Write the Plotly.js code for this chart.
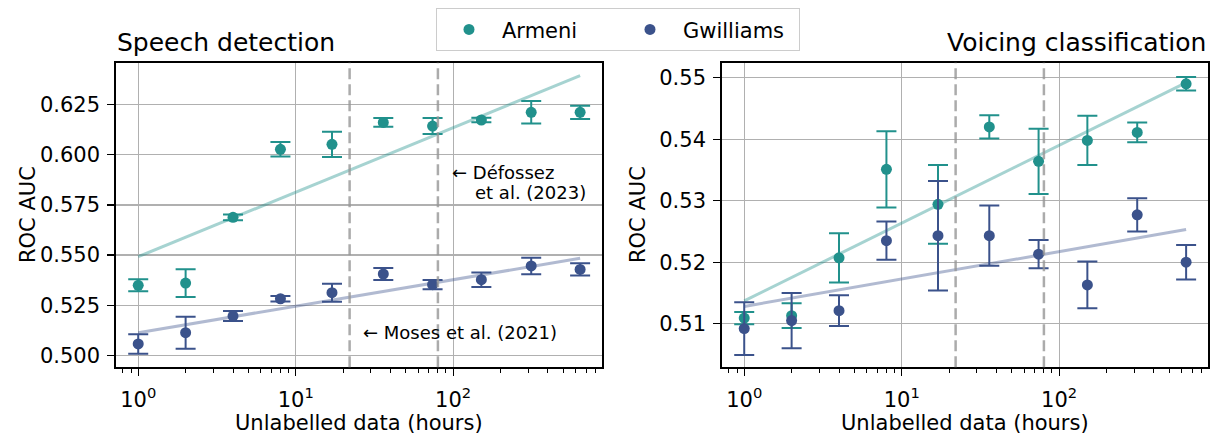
<!DOCTYPE html>
<html>
<head>
<meta charset="utf-8">
<script src="https://cdn.plot.ly/plotly-3.0.1.min.js"></script>
<style>html,body{margin:0;padding:0;background:#fff}#chart{width:1210px;height:434px}</style>
</head>
<body>
<div id="chart"></div>
<script>
// ---- data ----
const hours = [1, 2, 4, 8, 17, 36, 74, 151, 313, 640];
const fitHours = [1, 640];
const vlineHours = [22, 80];

// Speech detection
const speechArmeni      = [0.5350, 0.5361, 0.5688, 0.6026, 0.6051, 0.6160, 0.6142, 0.6172, 0.6210, 0.6210];
const speechArmeniErr   = [0.0030, 0.0069, 0.0014, 0.0036, 0.0063, 0.0022, 0.0040, 0.0011, 0.0056, 0.0033];
const speechGwilliams    = [0.5058, 0.5114, 0.5197, 0.5283, 0.5313, 0.5406, 0.5353, 0.5378, 0.5446, 0.5429];
const speechGwilliamsErr = [0.0049, 0.0080, 0.0025, 0.0014, 0.0045, 0.0030, 0.0023, 0.0036, 0.0041, 0.0031];
const speechArmeniFit    = [0.5492, 0.6393];
const speechGwilliamsFit = [0.5114, 0.5484];

// Voicing classification
const voiceArmeni      = [0.5109, 0.5113, 0.5207, 0.5351, 0.5294, 0.5420, 0.5364, 0.5398, 0.5411, 0.5490];
const voiceArmeniErr   = [0.0010, 0.0020, 0.0040, 0.0062, 0.0064, 0.0019, 0.0053, 0.0040, 0.0016, 0.0011];
const voiceGwilliams    = [0.5092, 0.5105, 0.5121, 0.5235, 0.5243, 0.5243, 0.5213, 0.5163, 0.5277, 0.5200];
const voiceGwilliamsErr = [0.0043, 0.0045, 0.0025, 0.0031, 0.0089, 0.0049, 0.0023, 0.0038, 0.0027, 0.0028];
const voiceArmeniFit    = [0.5137, 0.5492];
const voiceGwilliamsFit = [0.5128, 0.5253];

const xTickVals = [1, 10, 100];
const xTickText = ['10<sup>0</sup>', '10<sup>1</sup>', '10<sup>2</sup>'];
const speechYTicks = [0.500, 0.525, 0.550, 0.575, 0.600, 0.625];
const voiceYTicks = [0.51, 0.52, 0.53, 0.54, 0.55];

// ---- styling ----
const TEAL = '#21918c';
const NAVY = '#3b528b';
const TEAL_FIT = 'rgba(33,145,140,0.4)';
const NAVY_FIT = 'rgba(59,82,139,0.4)';
const FONT = 'DejaVu Sans, sans-serif';
const W = 1210, H = 434;
const px = x => x / W;
const py = y => 1 - y / H;

const minorVals = [];
[0.1, 1, 10, 100].forEach(d => { for (let k = 2; k <= 9; k++) minorVals.push(k * d); });

function pointTrace(y, err, color, name, xa, ya, showlegend) {
  return {
    x: hours, y: y, type: 'scatter', mode: 'markers', name: name,
    xaxis: xa, yaxis: ya, showlegend: showlegend, legendgroup: name,
    marker: {color: color, size: 11},
    error_y: {type: 'data', array: err, visible: true, color: color, thickness: 2, width: 10}
  };
}
function fitTrace(y, color, xa, ya) {
  return {
    x: fitHours, y: y, type: 'scatter', mode: 'lines', showlegend: false,
    xaxis: xa, yaxis: ya, line: {color: color, width: 3}, hoverinfo: 'skip'
  };
}

const data = [
  fitTrace(speechArmeniFit, TEAL_FIT, 'x', 'y'),
  fitTrace(speechGwilliamsFit, NAVY_FIT, 'x', 'y'),
  pointTrace(speechArmeni, speechArmeniErr, TEAL, 'Armeni', 'x', 'y', true),
  pointTrace(speechGwilliams, speechGwilliamsErr, NAVY, 'Gwilliams', 'x', 'y', true),
  fitTrace(voiceArmeniFit, TEAL_FIT, 'x2', 'y2'),
  fitTrace(voiceGwilliamsFit, NAVY_FIT, 'x2', 'y2'),
  pointTrace(voiceArmeni, voiceArmeniErr, TEAL, 'Armeni', 'x2', 'y2', false),
  pointTrace(voiceGwilliams, voiceGwilliamsErr, NAVY, 'Gwilliams', 'x2', 'y2', false)
];

const xRange = [-0.143, 2.947];
function xAxis(domain, anchor) {
  return {
    type: 'log', domain: domain, anchor: anchor, range: xRange,
    tickvals: xTickVals, ticktext: xTickText,
    ticks: 'outside', ticklen: 7, tickwidth: 1.3, tickcolor: '#000',
    showline: true, linecolor: '#000', linewidth: 1.5, mirror: true,
    showgrid: true, gridcolor: '#b0b0b0', gridwidth: 1.3, zeroline: false,
    ticklabelstandoff: 6,
    tickfont: {family: FONT, size: 21, color: '#000'},
    minor: {tickvals: minorVals, ticks: 'outside', ticklen: 4, tickwidth: 1, tickcolor: '#000', showgrid: false}
  };
}
function yAxis(domain, anchor, range, tickvals, fmt) {
  return {
    domain: domain, anchor: anchor, range: range, tickvals: tickvals, tickformat: fmt,
    ticks: 'outside', ticklen: 7, tickwidth: 1.3, tickcolor: '#000',
    showline: true, linecolor: '#000', linewidth: 1.5, mirror: true,
    showgrid: true, gridcolor: '#b0b0b0', gridwidth: 1.3, zeroline: false,
    ticklabelstandoff: 3,
    tickfont: {family: FONT, size: 21, color: '#000'}
  };
}

const yDom = [py(367.3), py(62.7)];
const shapes = [];
['x', 'x2'].forEach((xa, i) => {
  const ya = i === 0 ? 'y' : 'y2';
  vlineHours.forEach(h => shapes.push({
    type: 'line', xref: xa, yref: ya + ' domain',
    x0: h, x1: h, y0: 0, y1: 1,
    line: {color: 'rgba(150,150,150,0.8)', width: 2.5, dash: '11px,5px'}
  }));
});

function ann(text, x, y, opts) {
  return Object.assign({
    text: text, xref: 'paper', yref: 'paper', x: px(x), y: py(y),
    showarrow: false, font: {family: FONT, size: 21, color: '#000'},
    xanchor: 'center', yanchor: 'middle'
  }, opts || {});
}

const annotations = [
  ann('Speech detection', 115, 42, {xanchor: 'left', font: {family: FONT, size: 25, color: '#000'}}),
  ann('Voicing classification', 1208, 42, {xanchor: 'right', font: {family: FONT, size: 25, color: '#000'}}),
  ann('ROC AUC', 28, 215, {textangle: -90}),
  ann('ROC AUC', 638, 215, {textangle: -90}),
  ann('Unlabelled data (hours)', 359, 422.5),
  ann('Unlabelled data (hours)', 965, 422.5),
  ann('← Défossez', 450, 172, {xanchor: 'left', font: {family: FONT, size: 18, color: '#000'}}),
  ann('et al. (2023)', 588, 192, {xanchor: 'right', font: {family: FONT, size: 18, color: '#000'}}),
  ann('← Moses et al. (2021)', 361, 332, {xanchor: 'left', font: {family: FONT, size: 18, color: '#000'}})
];

const layout = {
  width: W, height: H,
  margin: {l: 0, r: 0, t: 0, b: 0},
  paper_bgcolor: '#fff', plot_bgcolor: '#fff',
  font: {family: FONT, size: 20, color: '#000'},
  xaxis: xAxis([px(115.7), px(602.3)], 'y'),
  yaxis: yAxis(yDom, 'x', [0.4942, 0.6457], speechYTicks, '.3f'),
  xaxis2: xAxis([px(721.7), px(1208.3)], 'y2'),
  yaxis2: yAxis(yDom, 'x2', [0.5029, 0.55244], voiceYTicks, '.2f'),
  shapes: shapes,
  annotations: annotations,
  showlegend: true,
  legend: {
    orientation: 'h', x: px(436), y: py(8), xanchor: 'left', yanchor: 'top',
    bordercolor: '#cccccc', borderwidth: 1.3, bgcolor: '#fff',
    font: {family: FONT, size: 21, color: '#000'},
    entrywidth: 110, itemwidth: 56
  }
};

Plotly.newPlot('chart', data, layout, {staticPlot: true, displayModeBar: false});
</script>
</body>
</html>
